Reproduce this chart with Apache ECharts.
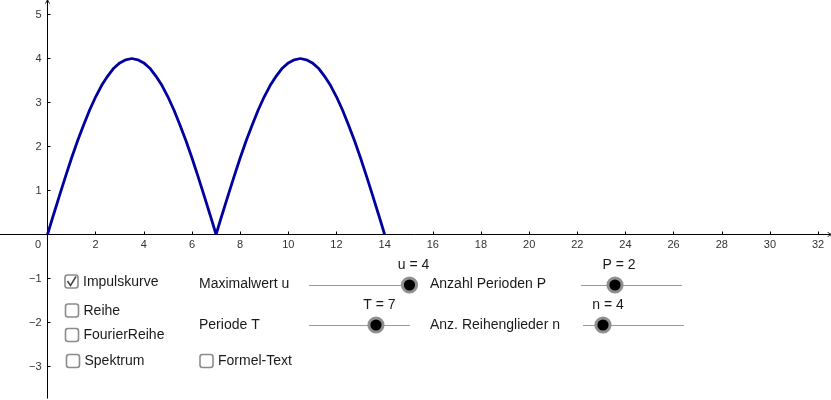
<!DOCTYPE html>
<html>
<head>
<meta charset="utf-8">
<style>html,body{margin:0;padding:0;background:#fff}#chart{width:831px;height:400px}</style>
<script src="https://cdn.jsdelivr.net/npm/echarts@6/dist/echarts.min.js"></script>
</head>
<body>
<div id="chart"></div>
<script>
// curve values
const xValues = [0,0.25,0.5,0.75,1,1.25,1.5,1.75,2,2.25,2.5,2.75,3,3.25,3.5,3.75,4,4.25,4.5,4.75,5,5.25,5.5,5.75,6,6.25,6.5,6.75,7,
  7.25,7.5,7.75,8,8.25,8.5,8.75,9,9.25,9.5,9.75,10,10.25,10.5,10.75,11,11.25,11.5,11.75,12,12.25,12.5,12.75,13,13.25,13.5,13.75,14]
const yValues = [0,0.45,0.89,1.32,1.74,2.13,2.49,2.83,3.13,3.39,3.6,3.78,3.9,3.97,4,3.97,3.9,3.78,3.6,3.39,3.13,2.83,2.49,2.13,1.74,1.32,0.89,0.45,0,
  0.45,0.89,1.32,1.74,2.13,2.49,2.83,3.13,3.39,3.6,3.78,3.9,3.97,4,3.97,3.9,3.78,3.6,3.39,3.13,2.83,2.49,2.13,1.74,1.32,0.89,0.45,0]
const xTicks = [2,4,6,8,10,12,14,16,18,20,22,24,26,28,30,32]
const yTicks = [-3,-2,-1,1,2,3,4,5]

const font = '"Liberation Sans", Arial, sans-serif'
const arrow = 'path://M0 10 L5 0 L10 10 L8.4 10 L5 3.6 L1.6 10 Z'

function text(str, x, y, align) {
  return { type: 'text', z: 10, x: x, y: y, style: { text: str, fill: '#1a1a1a', font: '14px ' + font, align: align || 'left', verticalAlign: 'middle' } }
}
function checkbox(x, y, label, checked) {
  let items = [
    { type: 'rect', z: 10, shape: { x: x, y: y, width: 13, height: 13, r: 2.5 }, style: { fill: '#fff', stroke: '#8c8c8c', lineWidth: 1.6 } },
    text(label, x + 18, y + 7)
  ]
  if (checked) {
    items.push({ type: 'polyline', z: 11, shape: { points: [[x + 2.5, y + 6], [x + 5.5, y + 10.5], [x + 11, y + 1.5]] }, style: { fill: 'none', stroke: '#444', lineWidth: 1.5 } })
  }
  return items
}
function slider(x1, x2, y, handle, label, labelX) {
  return [
    { type: 'line', z: 10, shape: { x1: x1, y1: y + 0.5, x2: x2, y2: y + 0.5 }, style: { stroke: '#999', lineWidth: 1 } },
    { type: 'circle', z: 11, shape: { cx: handle, cy: y, r: 8.6 }, style: { fill: '#8f8f8f' } },
    { type: 'circle', z: 12, shape: { cx: handle, cy: y, r: 5.6 }, style: { fill: '#000' } },
    text(label, labelX, y - 20, 'center')
  ]
}

let graphics = [
  { type: 'text', z: 10, x: 38, y: 244.5, style: { text: '0', fill: '#333', font: '11px ' + font, align: 'center', verticalAlign: 'middle' } },
  text('Maximalwert u', 199, 284.5),
  text('Periode T', 199, 325.5),
  text('Anzahl Perioden P', 430, 284.5),
  text('Anz. Reihenglieder n', 430, 325.5)
].concat(
  checkbox(65, 275, 'Impulskurve', true),
  checkbox(65.5, 304, 'Reihe', false),
  checkbox(65.5, 328.5, 'FourierReihe', false),
  checkbox(66.5, 354.5, 'Spektrum', false),
  checkbox(200, 354.5, 'Formel-Text', false),
  slider(309, 409, 285, 409.5, 'u = 4', 413.5),
  slider(581, 682, 285, 615, 'P = 2', 619),
  slider(309, 410, 325, 376, 'T = 7', 379.5),
  slider(583, 684, 325, 603, 'n = 4', 608)
)

// the axes sit on the grid edges and are moved to x=0 / y=0 with offset,
// so line, ticks and labels stay together
let option = {
  animation: false,
  grid: { left: -0.66, width: 830.8, top: 1.3, height: 396.9, outerBoundsMode: 'none' },
  xAxis: {
    type: 'value',
    min: -2,
    max: 32.5,
    position: 'bottom',
    offset: -163.7,
    splitLine: { show: false },
    axisLine: { onZero: false, lineStyle: { color: '#000', width: 1 }, symbol: ['none', arrow], symbolSize: [7, 5] },
    axisTick: { inside: true, length: 3, lineStyle: { color: '#000' }, customValues: xTicks },
    axisLabel: { color: '#333', fontSize: 11, fontFamily: font, margin: 5, customValues: xTicks }
  },
  yAxis: {
    type: 'value',
    min: -3.72,
    max: 5.3,
    position: 'left',
    offset: -48.16,
    splitLine: { show: false },
    axisLine: { onZero: false, lineStyle: { color: '#000', width: 1 }, symbol: ['none', arrow], symbolSize: [7, 5] },
    axisTick: { inside: true, length: 3, lineStyle: { color: '#000' }, customValues: yTicks },
    axisLabel: { color: '#333', fontSize: 11, fontFamily: font, margin: 6, customValues: yTicks,
      formatter: v => String(v).replace('-', '\u2212') }
  },
  series: [{
    type: 'line',
    data: xValues.map((x, i) => [x, yValues[i]]),
    symbol: 'none',
    lineStyle: { color: '#0000a0', width: 2.8 }
  }],
  graphic: graphics
}
let chart = echarts.init(document.getElementById('chart'))
chart.setOption(option)
</script>
</body>
</html>
